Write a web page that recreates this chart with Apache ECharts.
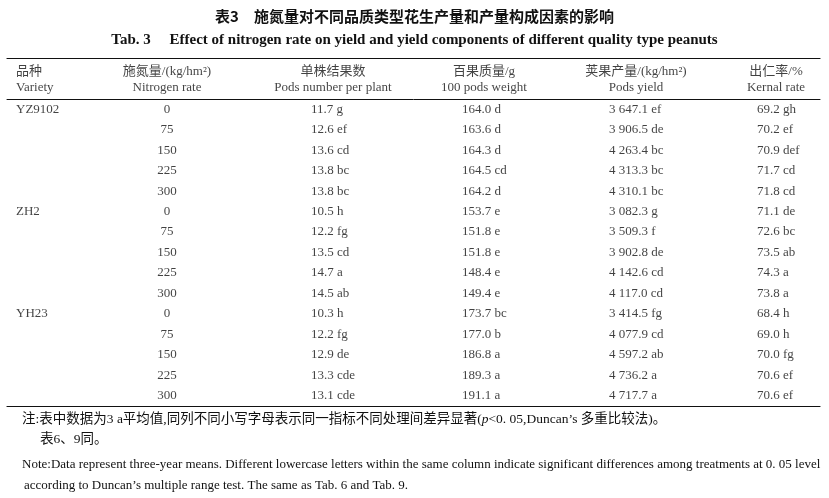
<!DOCTYPE html>
<html>
<head>
<meta charset="utf-8">
<script src="https://cdn.jsdelivr.net/npm/echarts@6/dist/echarts.min.js"></script>
<style>
html,body{margin:0;padding:0;background:#fff;}
#main{width:829px;height:498px;}
</style>
</head>
<body>
<div id="main"></div>
<script>
// ---- data ----
const varieties = ['YZ9102', 'ZH2', 'YH23'];
const nRates = [0, 75, 150, 225, 300];
const podsNumber = [11.7, 12.6, 13.6, 13.8, 13.8, 10.5, 12.2, 13.5, 14.7, 14.5, 10.3, 12.2, 12.9, 13.3, 13.1];
const podsNumberSig = ['g', 'ef', 'cd', 'bc', 'bc', 'h', 'fg', 'cd', 'a', 'ab', 'h', 'fg', 'de', 'cde', 'cde'];
const podsWeight = [164.0, 163.6, 164.3, 164.5, 164.2, 153.7, 151.8, 151.8, 148.4, 149.4, 173.7, 177.0, 186.8, 189.3, 191.1];
const podsWeightSig = ['d', 'd', 'd', 'cd', 'd', 'e', 'e', 'e', 'e', 'e', 'bc', 'b', 'a', 'a', 'a'];
const podsYield = [3647.1, 3906.5, 4263.4, 4313.3, 4310.1, 3082.3, 3509.3, 3902.8, 4142.6, 4117.0, 3414.5, 4077.9, 4597.2, 4736.2, 4717.7];
const podsYieldSig = ['ef', 'de', 'bc', 'bc', 'bc', 'g', 'f', 'de', 'cd', 'cd', 'fg', 'cd', 'ab', 'a', 'a'];
const kernelRate = [69.2, 70.2, 70.9, 71.7, 71.8, 71.1, 72.6, 73.5, 74.3, 73.8, 68.4, 69.0, 70.0, 70.6, 70.6];
const kernelRateSig = ['gh', 'ef', 'def', 'cd', 'cd', 'de', 'bc', 'ab', 'a', 'a', 'h', 'h', 'fg', 'ef', 'ef'];
const headerCn = ['品种', '施氮量/(kg/hm²)', '单株结果数', '百果质量/g', '荚果产量/(kg/hm²)', '出仁率/%'];
const headerEn = ['Variety', 'Nitrogen rate', 'Pods number per plant', '100 pods weight', 'Pods yield', 'Kernal rate'];
const titleCn = '表3\u3000施氮量对不同品质类型花生产量和产量构成因素的影响';
const titleEn = 'Tab. 3     Effect of nitrogen rate on yield and yield components of different quality type peanuts';
const noteCn1 = '注:表中数据为3 a平均值,同列不同小写字母表示同一指标不同处理间差异显著(';
const noteCn1b = '<0. 05,Duncan’s 多重比较法)。';
const noteCn2 = '表6、9同。';
const noteEn1 = 'Note:Data represent three-year means. Different lowercase letters within the same column indicate significant differences among treatments at 0. 05 level';
const noteEn2 = 'according to Duncan’s multiple range test. The same as Tab. 6 and Tab. 9.';

// ---- layout (not data) ----
const serif = '"Liberation Serif", "Noto Sans CJK SC", serif';
const txt = '#111';
// column anchor positions on the hidden x scale, and alignment of each column
const headAnchor = [16, 167, 333, 484, 636, 776];
const headAlign = ['left', 'center', 'center', 'center', 'center', 'center'];
const bodyAnchor = [16, 167, 311, 462, 609, 757];
const bodyAlign = ['left', 'center', 'left', 'left', 'left', 'left'];

const fmt1 = v => v.toFixed(1);
const fmtYield = v => {
  const s = v.toFixed(1);
  const [ip, dp] = s.split('.');
  return ip.replace(/\B(?=(\d{3})+(?!\d))/g, ' ') + '.' + dp;
};

const nRows = varieties.length * nRates.length;
const rowKeys = [];
varieties.forEach(v => nRates.forEach(n => rowKeys.push(v + '-' + n)));

const bodyCols = [
  i => (i % nRates.length === 0 ? varieties[Math.floor(i / nRates.length)] : ''),
  i => String(nRates[i % nRates.length]),
  i => fmt1(podsNumber[i]) + ' ' + podsNumberSig[i],
  i => fmt1(podsWeight[i]) + ' ' + podsWeightSig[i],
  i => fmtYield(podsYield[i]) + ' ' + podsYieldSig[i],
  i => fmt1(kernelRate[i]) + ' ' + kernelRateSig[i]
];

const labelFor = (align) => ({
  show: true,
  position: align === 'left' ? 'right' : 'inside',
  distance: 0,
  color: txt,
  fontSize: 13,
  fontFamily: serif,
  formatter: p => p.value[2]
});

const series = [];
bodyCols.forEach((fn, c) => {
  const data = [];
  for (let i = 0; i < nRows; i++) {
    const t = fn(i);
    if (t !== '') data.push([bodyAnchor[c], rowKeys[i], t]);
  }
  series.push({
    type: 'scatter', xAxisIndex: 0, yAxisIndex: 0,
    symbolSize: 0, silent: true, data: data, label: labelFor(bodyAlign[c])
  });
});
headerCn.forEach((h, c) => {
  series.push({
    type: 'scatter', xAxisIndex: 2, yAxisIndex: 1,
    symbolSize: 0, silent: true,
    data: [[headAnchor[c], 'cn', h], [headAnchor[c], 'en', headerEn[c]]],
    label: labelFor(headAlign[c])
  });
});

const lineAxis = (grid, pos, w, offset) => ({
  type: 'value', gridIndex: grid, position: pos, min: 7, max: 820, offset: offset || 0,
  axisLine: { show: true, onZero: false, lineStyle: { color: '#111', width: w } },
  axisTick: { show: false }, axisLabel: { show: false }, splitLine: { show: false }
});

const chart = echarts.init(document.getElementById('main'), null, { renderer: 'canvas' });
chart.setOption({
  backgroundColor: '#fff',
  animation: false,
  title: [
    { text: titleCn, left: 'center', top: 9, padding: 0,
      textStyle: { fontSize: 15, fontWeight: 'bold', color: txt, fontFamily: '"Noto Sans CJK SC", sans-serif' } },
    { text: titleEn, left: 'center', top: 33, padding: 0,
      textStyle: { fontSize: 15, fontWeight: 'bold', color: txt, fontFamily: serif } },
    { text: '{a|' + noteCn1 + '}{i|p}{a|' + noteCn1b + '}', left: 22, top: 413, padding: 0,
      textStyle: { fontWeight: 'normal', rich: {
        a: { fontSize: 13.5, fontWeight: 'normal', color: txt, fontFamily: serif },
        i: { fontSize: 13.5, fontWeight: 'normal', color: txt, fontFamily: serif, fontStyle: 'italic' } } } },
    { text: noteCn2, left: 40, top: 433, padding: 0,
      textStyle: { fontSize: 13.5, fontWeight: 'normal', color: txt, fontFamily: serif } },
    { text: noteEn1, left: 22, top: 458, padding: 0,
      textStyle: { fontSize: 13, fontWeight: 'normal', color: txt, fontFamily: serif } },
    { text: noteEn2, left: 24, top: 479, padding: 0,
      textStyle: { fontSize: 13, fontWeight: 'normal', color: txt, fontFamily: serif } }
  ],
  grid: [
    { left: 7, right: 9, top: 99, height: 307 },
    { left: 7, right: 9, top: 64, height: 32 }
  ],
  xAxis: [
    lineAxis(0, 'top', 1),
    lineAxis(0, 'bottom', 1.2),
    lineAxis(1, 'top', 1.2, 6)
  ],
  yAxis: [
    { type: 'category', gridIndex: 0, data: rowKeys, inverse: true, show: false },
    { type: 'category', gridIndex: 1, data: ['cn', 'en'], inverse: true, show: false }
  ],
  series: series
});
</script>
</body>
</html>
